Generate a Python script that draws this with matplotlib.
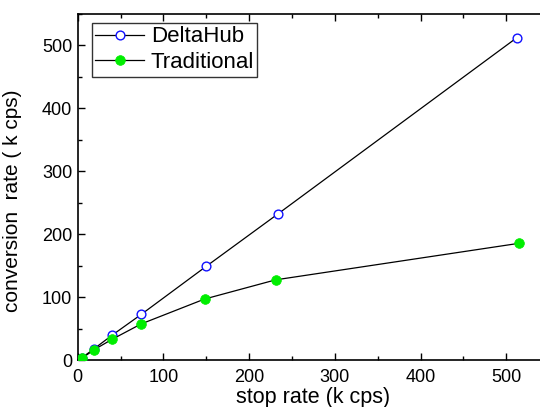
import matplotlib
matplotlib.use("Agg")
import matplotlib.pyplot as plt
from matplotlib.ticker import MultipleLocator

plt.rcParams['font.family'] = ['Liberation Sans', 'DejaVu Sans']

delta_x = [5, 19, 40, 74, 150, 234, 512]
delta_y = [4.5, 18.5, 40, 73, 149.5, 233, 512]
trad_x = [5, 19, 40, 74, 148, 231, 515]
trad_y = [3.5, 17, 33.5, 58, 97.5, 128, 186]

fig = plt.figure(figsize=(5.40, 4.07), dpi=100)
ax = fig.add_axes([0.1439, 0.1143, 0.873, 0.8514])

ax.plot(delta_x, delta_y, color='black', lw=0.9, marker='o', ms=6.3,
        mfc='white', mec='#1010ff', mew=1.0, label='DeltaHub', zorder=3)
ax.plot(trad_x, trad_y, color='black', lw=0.9, marker='o', ms=7,
        mfc='#00ee00', mec='#00ee00', mew=0.5, label='Traditional', zorder=3)

ax.set_xlim(0, 550)
ax.set_ylim(0, 550)
ax.xaxis.set_major_locator(MultipleLocator(100))
ax.xaxis.set_minor_locator(MultipleLocator(50))
ax.yaxis.set_major_locator(MultipleLocator(100))
ax.yaxis.set_minor_locator(MultipleLocator(50))
ax.tick_params(which='both', direction='in', top=True, right=False,
               labelsize=13, width=1.0)
ax.tick_params(which='major', length=5, pad=4)
ax.tick_params(axis='x', which='major', pad=6)
ax.tick_params(which='minor', length=3)
for s in ax.spines.values():
    s.set_linewidth(1.2)
ax.spines['right'].set_visible(False)

ax.set_xlabel('stop rate (k cps)', fontsize=15.5, labelpad=1)
ax.set_ylabel('conversion  rate ( k cps)', fontsize=15)
ax.yaxis.set_label_coords(-0.118, 0.46)

leg = ax.legend(loc='upper left', bbox_to_anchor=(0.03, 0.974), fontsize=16,
                frameon=True, fancybox=False, edgecolor='black',
                handlelength=2.2, handletextpad=0.3, borderpad=0.15,
                labelspacing=0.22, borderaxespad=0.0)
leg.get_frame().set_linewidth(1.0)

fig.savefig('out.png', dpi=100, facecolor='white')
